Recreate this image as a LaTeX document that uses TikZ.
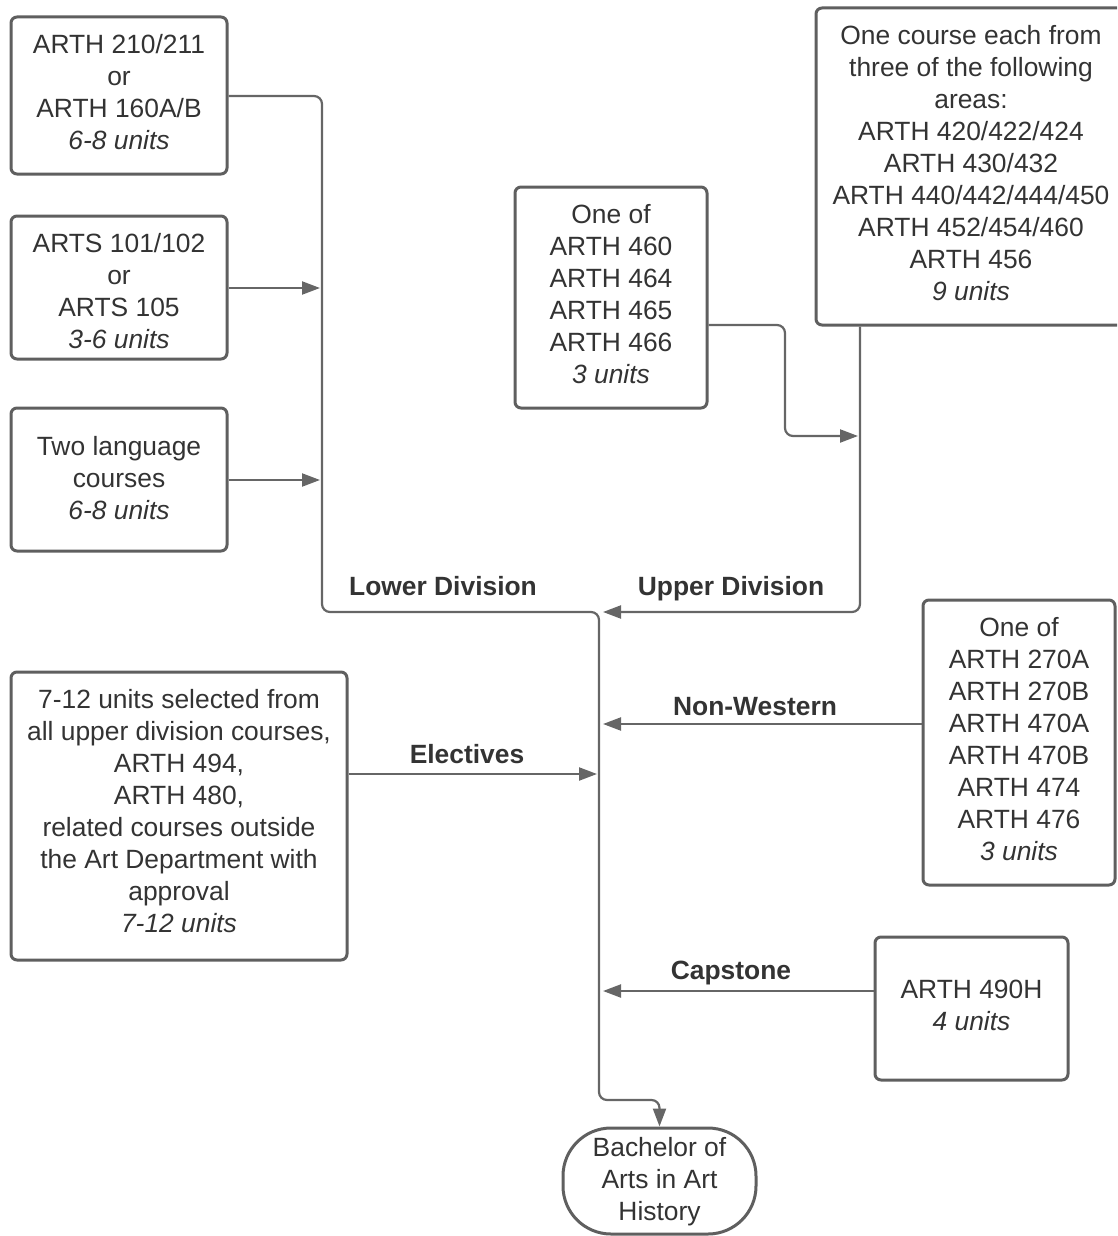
\documentclass[tikz,border=0pt]{standalone}
\usepackage{fontspec}
\setmainfont{Liberation Sans}
\usetikzlibrary{arrows.meta}
\definecolor{boxc}{HTML}{5F5F5F}
\definecolor{linec}{HTML}{666666}
\definecolor{txtc}{HTML}{333333}
\tikzset{
  box/.style={draw=boxc, line width=3pt, rounded corners=6pt, fill=white, inner sep=0pt},
  term/.style={box, rounded corners=48pt},
  txt/.style={inner sep=0pt, align=center, text=txtc, font=\fontsize{26.4}{32}\selectfont},
  conn/.style={draw=linec, line width=2.2pt, rounded corners=8pt},
  arr/.style={conn, -{Triangle[length=18pt,width=13pt]}},
  lbl/.style={text=txtc, font=\fontsize{26.4}{32}\selectfont\bfseries, inner sep=0pt, anchor=base}
}
\begin{document}
\begin{tikzpicture}[x=1pt,y=-1pt]
\useasboundingbox (0,0) rectangle (1117,1236);
\clip (0,0) rectangle (1117,1236);
% boxes
\node[box, minimum width=216, minimum height=157] (a) at (119,95.5) {};
\node[txt] (at) at (119,92) {ARTH 210/211\\or\\ARTH 160A/B\\\textit{6-8 units}};
\node[box, minimum width=216, minimum height=143] (b) at (119,287.5) {};
\node[txt] (bt0) at (119,291) {ARTS 101/102\\or\\ARTS 105\\\textit{3-6 units}};
\node[box, minimum width=216, minimum height=143] (c) at (119,479.5) {};
\node[txt] (ct0) at (119,478) {Two language\\courses\\\textit{6-8 units}};
\node[box, minimum width=192, minimum height=221] (d) at (611,297.5) {};
\node[txt] (dt0) at (611,294) {One of\\ARTH 460\\ARTH 464\\ARTH 465\\ARTH 466\\\textit{3 units}};
\node[box, minimum width=312, minimum height=317] (e) at (972,166.5) {};
\node[txt] (et0) at (971,163) {One course each from\\three of the following\\areas:\\ARTH 420/422/424\\ARTH 430/432\\ARTH 440/442/444/450\\ARTH 452/454/460\\ARTH 456\\\textit{9 units}};
\node[box, minimum width=192, minimum height=285] (f) at (1019,742.5) {};
\node[txt] (ft0) at (1019,739) {One of\\ARTH 270A\\ARTH 270B\\ARTH 470A\\ARTH 470B\\ARTH 474\\ARTH 476\\\textit{3 units}};
\node[box, minimum width=336, minimum height=288] (g) at (179,816) {};
\node[txt] (gt0) at (179,811) {7-12 units selected from\\all upper division courses,\\ARTH 494,\\ARTH 480,\\related courses outside\\the Art Department with\\approval\\\textit{7-12 units}};
\node[box, minimum width=193, minimum height=143] (h) at (971.5,1008.5) {};
\node[txt] (ht0) at (971.5,1005) {ARTH 490H\\\textit{4 units}};
\node[term, minimum width=193, minimum height=106] (t) at (659.5,1181) {};
\node[txt] (tt0) at (659.5,1182) {Bachelor of\\Arts in Art\\History};
% junction coordinates
\coordinate (lx) at (322,612);
\coordinate (tr) at (599,612);
\coordinate (tb) at (599,1100);
\coordinate (ux) at (860,612);
\coordinate (ut) at (603,612);
\coordinate (ya) at (0,96);
\coordinate (yd) at (0,325);
\coordinate (dx) at (785,436);
\coordinate (de) at (858,436);
\coordinate (bt) at (320,288);
\coordinate (ct) at (320,480);
\coordinate (yf) at (0,724);
\coordinate (ft) at (603,724);
\coordinate (yg) at (0,774);
\coordinate (gt) at (597,774);
\coordinate (yh) at (0,991);
\coordinate (ht) at (603,991);
% connectors
\draw[arr] (a.east |- ya) -| (lx) -- (tr) -- (tb) -| (t.north);
\draw[arr] (b.east |- bt) -- (bt);
\draw[arr] (c.east |- ct) -- (ct);
\draw[arr] (e.south -| ux) -- (ux) -- (ut);
\draw[arr] (d.east |- yd) -| (dx) -- (de);
\draw[arr] (f.west |- yf) -- (ft);
\draw[arr] (g.east |- yg) -- (gt);
\draw[arr] (h.west |- yh) -- (ht);
% labels
\node[lbl] (l1) at (443,595.5) {Lower Division};
\node[lbl] (l2) at (731,595.5) {Upper Division};
\node[lbl] (l3) at (755,715.5) {Non-Western};
\node[lbl] (l4) at (467,763.5) {Electives};
\node[lbl] (l5) at (731,979.5) {Capstone};
\end{tikzpicture}
\end{document}
